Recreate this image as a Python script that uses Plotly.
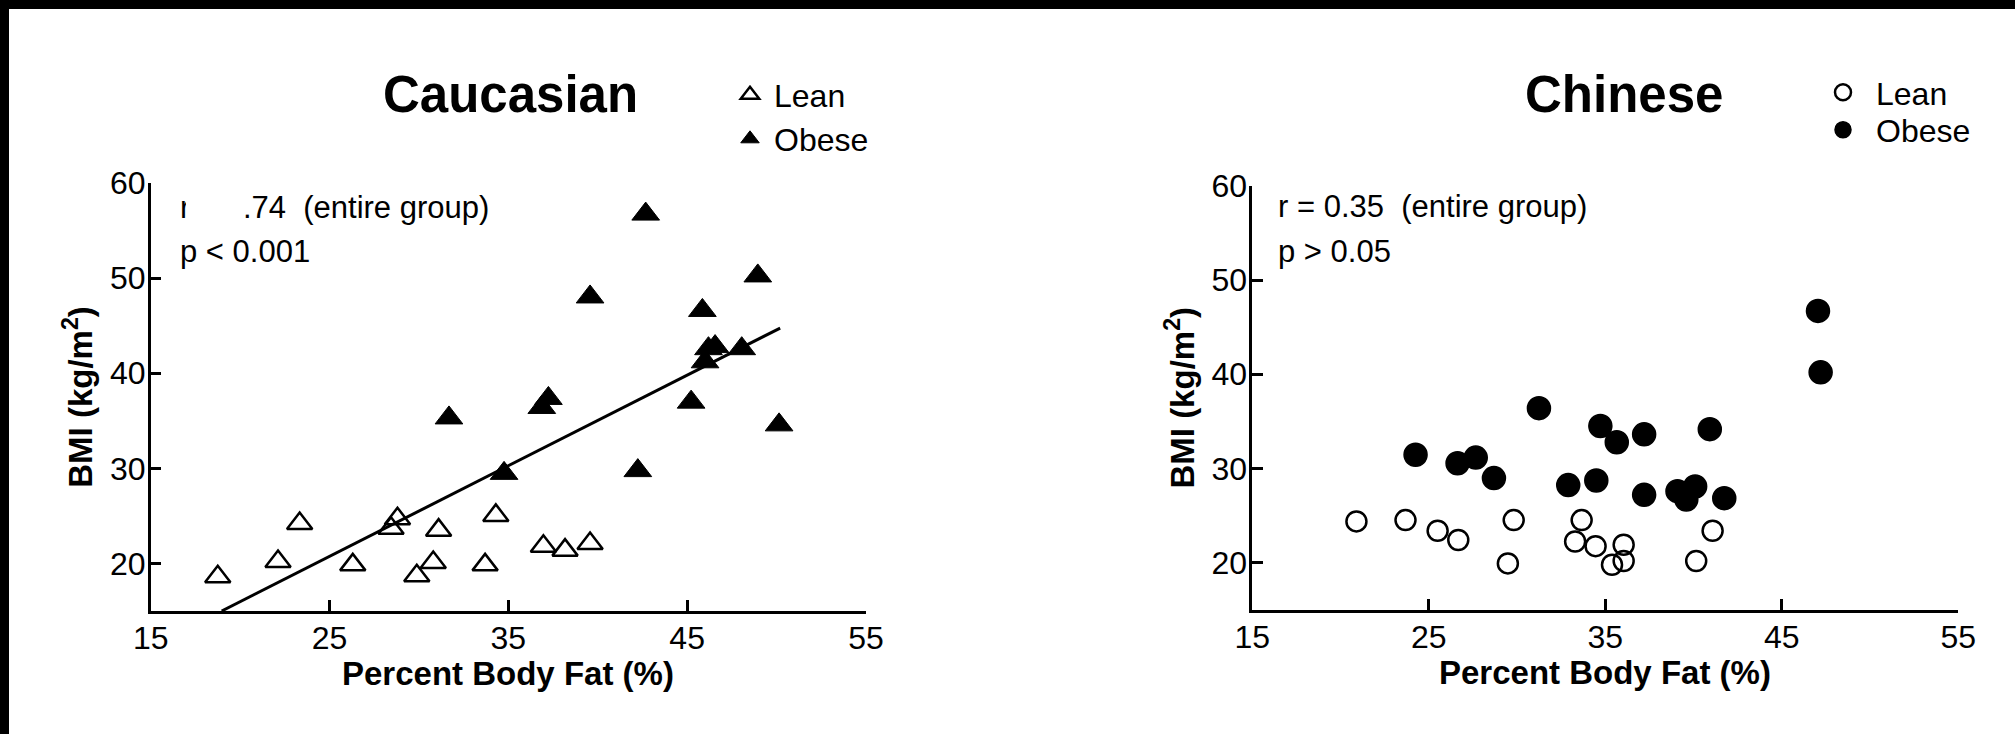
import plotly.graph_objects as go

W, H = 2015, 734
FONT = "Liberation Sans, Arial, sans-serif"

# ---------------- data ----------------
cau_lean_x = [18.75, 22.12, 23.33, 26.3, 28.44, 28.8, 29.88, 30.8, 31.1, 33.7, 34.3, 36.96, 38.17, 39.57]
cau_lean_y = [18.6, 20.2, 24.2, 19.85, 23.7, 24.7, 18.7, 20.1, 23.5, 19.85, 25.05, 21.8, 21.4, 22.1]
cau_obese_x = [31.68, 34.76, 36.87, 37.24, 39.57, 42.24, 42.68, 45.22, 45.85, 46.0, 46.19, 46.56, 48.05, 48.95, 50.14]
cau_obese_y = [35.3, 29.47, 36.4, 37.35, 48.02, 29.76, 56.73, 36.96, 46.6, 41.2, 42.58, 42.8, 42.58, 50.23, 34.57]
cau_fit_x = [18.97, 50.2]
cau_fit_y = [15.0, 44.75]

chn_lean_x = [20.9, 23.68, 25.5, 26.67, 29.48, 29.81, 33.29, 33.66, 34.45, 35.38, 36.04, 36.04, 40.15, 41.08]
chn_lean_y = [24.36, 24.5, 23.37, 22.38, 19.9, 24.5, 22.23, 24.5, 21.73, 19.75, 21.88, 20.15, 20.15, 23.37]
chn_obese_x = [24.25, 26.63, 27.66, 28.69, 31.24, 32.9, 34.49, 34.72, 35.65, 37.2, 37.2, 39.09, 39.59, 40.09, 40.92, 41.74, 47.05, 47.2]
chn_obese_y = [31.44, 30.54, 31.14, 28.96, 36.39, 28.22, 28.71, 34.5, 32.77, 33.61, 27.18, 27.57, 26.68, 28.07, 34.16, 26.83, 46.73, 40.2]

x_ticks = [15, 25, 35, 45, 55]
y_ticks = [20, 30, 40, 50, 60]
x_range = [15, 55]
y_range = [15, 60]

# ---------------- figure ----------------
fig = go.Figure()

fig.add_trace(go.Scatter(x=cau_fit_x, y=cau_fit_y, mode="lines",
                         line=dict(color="black", width=3),
                         showlegend=False, xaxis="x", yaxis="y"))
fig.add_trace(go.Scatter(x=cau_lean_x, y=cau_lean_y, mode="markers", name="Lean",
                         marker=dict(symbol="triangle-up-open", size=22, color="black",
                                     line=dict(width=2.5, color="black")),
                         xaxis="x", yaxis="y", legend="legend"))
fig.add_trace(go.Scatter(x=cau_obese_x, y=cau_obese_y, mode="markers", name="Obese",
                         marker=dict(symbol="triangle-up", size=24, color="black",
                                     line=dict(width=1, color="black")),
                         xaxis="x", yaxis="y", legend="legend2"))

fig.add_trace(go.Scatter(x=chn_lean_x, y=chn_lean_y, mode="markers", name="Lean",
                         marker=dict(symbol="circle-open", size=20, color="black",
                                     line=dict(width=2.5, color="black")),
                         xaxis="x2", yaxis="y2", legend="legend3"))
fig.add_trace(go.Scatter(x=chn_obese_x, y=chn_obese_y, mode="markers", name="Obese",
                         marker=dict(symbol="circle", size=23, color="black",
                                     line=dict(width=1.5, color="black")),
                         xaxis="x2", yaxis="y2", legend="legend4"))


def px(xp):
    return xp / W


def py(yp):
    return 1 - yp / H


axis_common = dict(showline=True, linecolor="black", linewidth=2.5,
                   ticks="inside", ticklen=11, tickwidth=2.5, tickcolor="black",
                   showgrid=False, zeroline=False, fixedrange=True, automargin=False,
                   tickfont=dict(family=FONT, size=32, color="black"))

yt = dict(text="<b>BMI (kg/m<sup>2</sup>)</b>", font=dict(family=FONT, size=33, color="black"), standoff=8)

leg_font = dict(family=FONT, size=32, color="black")


def legend_at(xp, yp, itemwidth):
    return dict(x=px(xp), y=py(yp), xanchor="left", yanchor="middle",
                font=leg_font, itemwidth=itemwidth,
                bgcolor="rgba(0,0,0,0)", borderwidth=0)


fig.update_layout(
    template="none",
    width=W, height=H, autosize=False,
    margin=dict(l=0, r=0, t=0, b=0, pad=0),
    paper_bgcolor="white", plot_bgcolor="white",
    font=dict(family=FONT, color="black"),
    xaxis=dict(domain=[px(150.7), px(866)], range=x_range, tickvals=x_ticks,
               anchor="y", ticklabelstandoff=-3, **axis_common),
    yaxis=dict(domain=[py(611), py(183)], range=y_range, tickvals=y_ticks,
               anchor="x", title=yt, ticklabelstandoff=-4, **axis_common),
    xaxis2=dict(domain=[px(1252.3), px(1958.3)], range=x_range, tickvals=x_ticks,
                anchor="y2", ticklabelstandoff=-3, **axis_common),
    yaxis2=dict(domain=[py(609.5), py(186)], range=y_range, tickvals=y_ticks,
                anchor="x2", title=yt, ticklabelstandoff=-4, **axis_common),
    legend=legend_at(726, 95, 38),
    legend2=legend_at(726, 139, 38),
    legend3=legend_at(1810, 92.5, 56),
    legend4=legend_at(1810, 130, 56),
    showlegend=True,
)

ann_font = dict(family=FONT, size=31, color="black")
xtitle_font = dict(family=FONT, size=33, color="black")
annotations = [
    dict(text="<b>Caucasian</b>", x=px(511), y=py(95), xref="paper", yref="paper",
         xanchor="center", yanchor="middle", showarrow=False,
         font=dict(family=FONT, size=51, color="black")),
    dict(text="<b>Chinese</b>", x=px(1624), y=py(94), xref="paper", yref="paper",
         xanchor="center", yanchor="middle", showarrow=False,
         font=dict(family=FONT, size=51, color="black")),
    dict(text="<b>Percent Body Fat (%)</b>", x=px(508.4), y=py(673), xref="paper", yref="paper",
         xanchor="center", yanchor="middle", showarrow=False, font=xtitle_font,
         height=40),
    dict(text="<b>Percent Body Fat (%)</b>", x=px(1605.3), y=py(672), xref="paper", yref="paper",
         xanchor="center", yanchor="middle", showarrow=False, font=xtitle_font,
         height=40),
    dict(text="r = 0.74  (entire group)", x=px(178), y=py(207.5), xref="paper", yref="paper",
         xanchor="left", yanchor="middle", showarrow=False, font=ann_font),
    dict(text="p < 0.001", x=px(178), y=py(252), xref="paper", yref="paper",
         xanchor="left", yanchor="middle", showarrow=False, font=ann_font),
    dict(text="r = 0.35  (entire group)", x=px(1276), y=py(206), xref="paper", yref="paper",
         xanchor="left", yanchor="middle", showarrow=False, font=ann_font),
    dict(text="p > 0.05", x=px(1276), y=py(251.5), xref="paper", yref="paper",
         xanchor="left", yanchor="middle", showarrow=False, font=ann_font),
    # white patch that hides part of the first statistic, as in the source image
    dict(text=" ", x=px(185.5), y=py(207.5), xref="paper", yref="paper",
         xanchor="left", yanchor="middle", showarrow=False, width=57, height=34,
         borderpad=0, borderwidth=0, bgcolor="white", font=ann_font),
]
fig.update_layout(annotations=annotations)

# black border bands at the top and left edges of the source image
fig.update_layout(shapes=[
    dict(type="rect", xref="paper", yref="paper", x0=0, x1=1, y0=py(9), y1=1,
         fillcolor="black", line=dict(width=0), layer="above"),
    dict(type="rect", xref="paper", yref="paper", x0=0, x1=px(9), y0=0, y1=1,
         fillcolor="black", line=dict(width=0), layer="above"),
])

fig.write_html("out.html", config=dict(displayModeBar=False))
